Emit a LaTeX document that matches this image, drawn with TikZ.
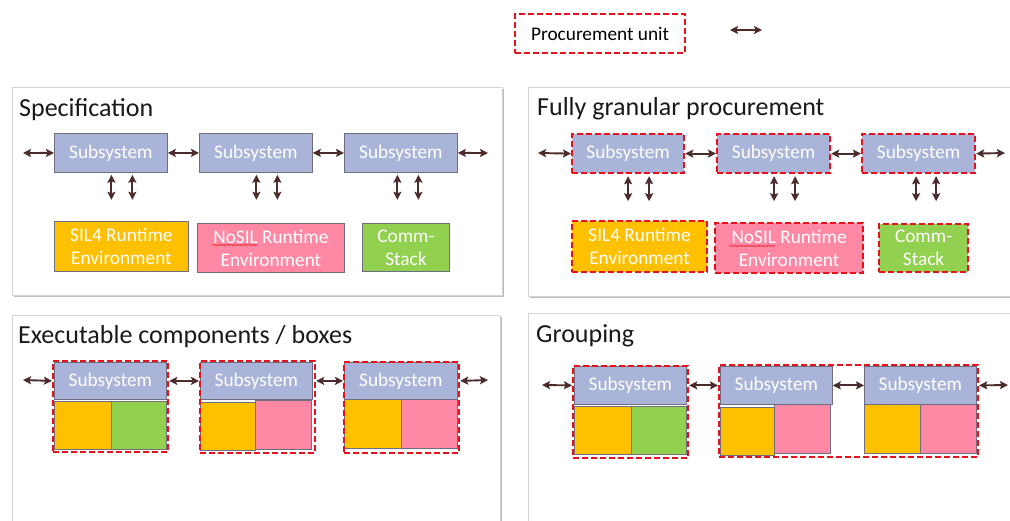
\documentclass[tikz,border=0pt]{standalone}
\usepackage{fontspec}
\setmainfont{Carlito}
\usetikzlibrary{arrows.meta,decorations.pathmorphing}

\definecolor{subfill}{HTML}{A9B4D8}
\definecolor{boxline}{HTML}{6E6E7E}
\definecolor{silfill}{HTML}{FFC000}
\definecolor{nosilfill}{HTML}{FF89A5}
\definecolor{commfill}{HTML}{92D050}
\definecolor{pured}{HTML}{E8101A}
\definecolor{linkcol}{HTML}{4B2B2B}
\definecolor{panelline}{HTML}{D4D4D4}
\definecolor{panelshadow}{HTML}{BDBDBD}

% rectangle node from its top-left and bottom-right corners
\newcommand\rbox[7]{%
  \node[#1, anchor=north west, minimum width={(#5)-(#3)},
        minimum height={(#6)-(#4)}] (#2) at (#3,#4) {#7};}
% two vertical links hanging below a subsystem
\newcommand\vpair[3]{%
  \draw[biarrow] ([xshift=#2pt,yshift=-2pt]#1.south) -- ++(0,25);
  \draw[biarrow] ([xshift=#3pt,yshift=-2pt]#1.south) -- ++(0,25);}
% white card with a soft drop shadow
\newcommand\panel[4]{%
  \fill[panelshadow] (#1+2,#2+2) rectangle (#3+2,#4+2);
  \filldraw[fill=white, draw=panelline, line width=0.8pt] (#1,#2) rectangle (#3,#4);}

\tikzset{
  txt/.style={font=\fontsize{19.3}{23}\selectfont},
  title/.style={font=\fontsize{26}{30}\selectfont, anchor=base west, inner sep=0pt, text=black!90},
  box/.style={draw=boxline, line width=0.8pt, inner sep=0pt, text=white, txt, align=center},
  subsys/.style={box, fill=subfill},
  silbox/.style={box, fill=silfill},
  nosilbox/.style={box, fill=nosilfill},
  commbox/.style={box, fill=commfill},
  pu/.style={draw=pured, line width=2.2pt, dash pattern=on 6pt off 3pt},
  tip/.tip={Stealth[length=8pt,width=8pt,inset=1.5pt]},
  biarrow/.style={draw=linkcol, line width=1.9pt, tip-tip},
  spell/.style={draw=red!85, line width=0.5pt,
    decorate, decoration={snake, amplitude=0.7pt, segment length=2.6pt}}
}

\begin{document}
\begin{tikzpicture}[x=1pt,y=-1pt]
\useasboundingbox (0,0) rectangle (1010,520);
\clip (0,0) rectangle (1010,520);
\fill[white] (0,0) rectangle (1010,520);

% ---------- legend ----------
\rbox{pu, inner sep=0pt, txt, text=black}{legpu}{514}{13}{684}{52}{Procurement unit}
\coordinate (legl) at (730,30);
\coordinate (legr) at (762,30);
\draw[biarrow, line width=1.6pt] (legl) -- (legr);

% ---------- cards ----------
\panel{12}{87}{502}{295}
\panel{528}{87}{1016}{296}
\panel{12}{315}{500}{530}
\panel{528}{313}{1016}{530}

\node[title] (t1) at (19,116) {Specification};
\node[title] (t2) at (537,115) {Fully granular procurement};
\node[title] (t3) at (18,343) {Executable components / boxes};
\node[title] (t4) at (536,342) {Grouping};

% ---------- Specification ----------
\rbox{subsys}{s11}{54}{133}{167}{172}{Subsystem}
\rbox{subsys}{s12}{199}{133}{312}{172}{Subsystem}
\rbox{subsys}{s13}{344}{133}{457}{172}{Subsystem}
\rbox{silbox}{r11}{54}{221}{188}{271}{SIL4 Runtime\\Environment}
\rbox{nosilbox}{r12}{197}{223}{344}{272}{NoSIL Runtime\\Environment}
\rbox{commbox}{r13}{362}{223}{449}{271}{Comm-\\Stack}
\draw[spell] (212,245) -- (257,245);
\coordinate (e1l) at (23,153);
\coordinate (e1r) at (488,153);
\draw[biarrow] (e1l) -- (s11.west);
\draw[biarrow] (s11.east) -- (s12.west);
\draw[biarrow] (s12.east) -- (s13.west);
\draw[biarrow] (s13.east) -- (e1r);
\vpair{s11}{0.5}{21.5}
\vpair{s12}{0.5}{21.5}
\vpair{s13}{-3.5}{17.5}

% ---------- Fully granular procurement ----------
\rbox{subsys,pu}{s21}{571}{133}{683}{172}{Subsystem}
\rbox{subsys,pu}{s22}{716}{133}{829}{172}{Subsystem}
\rbox{subsys,pu}{s23}{861}{133}{974}{172}{Subsystem}
\rbox{silbox,pu}{r21}{571}{220}{706}{271}{SIL4 Runtime\\Environment}
\rbox{nosilbox,pu}{r22}{714}{222}{862}{272}{NoSIL Runtime\\Environment}
\rbox{commbox,pu}{r23}{878}{223}{967}{271}{Comm-\\Stack}
\draw[spell] (729,246) -- (775,246);
\coordinate (e2l) at (538,153);
\coordinate (e2r) at (1005,153);
\draw[biarrow] (e2l) -- (s21.west);
\draw[biarrow] (s21.east) -- (s22.west);
\draw[biarrow] (s22.east) -- (s23.west);
\draw[biarrow] (s23.east) -- (e2r);
\vpair{s21}{0}{21}
\vpair{s22}{0.5}{21.5}
\vpair{s23}{-2.5}{17.5}

% ---------- Executable components / boxes ----------
\rbox{subsys}{s31}{54}{362}{166}{399}{Subsystem}
\rbox{silbox}{o31}{54}{401}{111}{449}{}
\rbox{commbox}{g31}{111}{401}{166}{449}{}
\rbox{pu}{u31}{52}{360}{167}{451}{}

\rbox{subsys}{s32}{200}{362}{312}{399}{Subsystem}
\rbox{silbox}{o32}{200}{402}{255}{450}{}
\rbox{nosilbox}{p32}{255}{400}{311}{449}{}
\rbox{pu}{u32}{199}{360}{314}{452}{}

\rbox{subsys}{s33}{344}{362}{457}{399}{Subsystem}
\rbox{silbox}{o33}{344}{399}{401}{448}{}
\rbox{nosilbox}{p33}{401}{399}{457}{448}{}
\rbox{pu}{u33}{343}{361}{458}{452}{}

\coordinate (e3l) at (23,380);
\coordinate (e3r) at (488,380);
\draw[biarrow] (e3l) -- (u31.west |- s31.west);
\draw[biarrow] (u31.east |- s31.east) -- (u32.west |- s32.west);
\draw[biarrow] (u32.east |- s32.east) -- (u33.west |- s33.west);
\draw[biarrow] (u33.east |- s33.east) -- (e3r);

% ---------- Grouping ----------
\rbox{subsys}{s41}{574}{366}{686}{404}{Subsystem}
\rbox{silbox}{o41}{574}{406}{631}{454}{}
\rbox{commbox}{g41}{631}{406}{686}{454}{}
\rbox{pu}{u41}{572}{365}{687}{457}{}

\rbox{subsys}{s42}{720}{366}{832}{404}{Subsystem}
\rbox{silbox}{o42}{720}{407}{774}{455}{}
\rbox{nosilbox}{p42}{774}{404}{830}{453}{}
\rbox{subsys}{s43}{864}{366}{976}{404}{Subsystem}
\rbox{silbox}{o43}{864}{404}{920}{453}{}
\rbox{nosilbox}{p43}{920}{404}{976}{453}{}
\rbox{pu}{u42}{718}{364}{977}{456}{}

\coordinate (e4l) at (542,385);
\coordinate (e4r) at (1008,385);
\draw[biarrow] (e4l) -- (u41.west |- s41.west);
\draw[biarrow] (u41.east |- s41.east) -- (u42.west |- s42.west);
\draw[biarrow] (s42.east) -- (s43.west);
\draw[biarrow] (u42.east |- s43.east) -- (e4r);
\end{tikzpicture}
\end{document}
